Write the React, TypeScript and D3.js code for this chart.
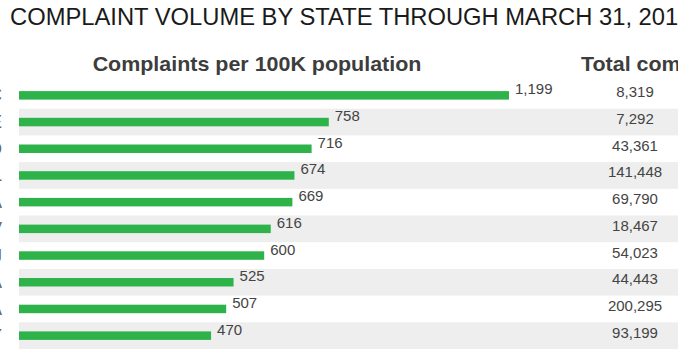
import React from "react";
import * as d3 from "d3";

const states = ["DC", "DE", "MD", "FL", "GA", "NV", "NJ", "VA", "CA", "NY"];
const perCapita = [1199, 758, 716, 674, 669, 616, 600, 525, 507, 470];
const totals = [8319, 7292, 43361, 141448, 69790, 18467, 54023, 44443, 200295, 93199];

const W = 678;
const H = 358;

export default function App() {
  const x = d3.scaleLinear().domain([0, 1199]).range([19, 509]);
  const y = d3.scaleBand<string>().domain(states).range([82, 349]).padding(0);
  const fmt = d3.format(",");
  const barH = 8.5;
  const font = "'Liberation Sans', Arial, sans-serif";
  return (
    <svg width={W} height={H} style={{ position: "absolute", left: 0, top: 0, background: "#fff" }} fontFamily={font}>
      <text x={10} y={25} fontSize={23.75} fill="#1a1a1a">COMPLAINT VOLUME BY STATE THROUGH MARCH 31, 2018</text>
      <text transform="translate(257,71) scale(1.1,1)" fontSize={19.5} fontWeight="bold" fill="#3d3d3d" textAnchor="middle">Complaints per 100K population</text>
      <text transform="translate(581,71) scale(1.1,1)" fontSize={19.5} fontWeight="bold" fill="#3d3d3d">Total complaints</text>
      {states.map((s, i) => {
        const y0 = y(s)!;
        const c = y0 + y.bandwidth() / 2;
        return (
          <g key={s}>
            {i % 2 === 1 && <rect x={19} y={y0} width={W - 19} height={y.bandwidth()} fill="#eeeeee" />}
            <text x={2} y={c + 6} fontSize={18} fill="#666" textAnchor="end">{s}</text>
            <rect x={x(0)} y={c - barH / 2} width={x(perCapita[i]) - x(0)} height={barH} fill="#2db34a" />
            <text x={x(perCapita[i]) + 6} y={c - 1} fontSize={15} fill="#444">{fmt(perCapita[i])}</text>
            <text x={635} y={c + 2} fontSize={15} fill="#444" textAnchor="middle">{fmt(totals[i])}</text>
          </g>
        );
      })}
    </svg>
  );
}
